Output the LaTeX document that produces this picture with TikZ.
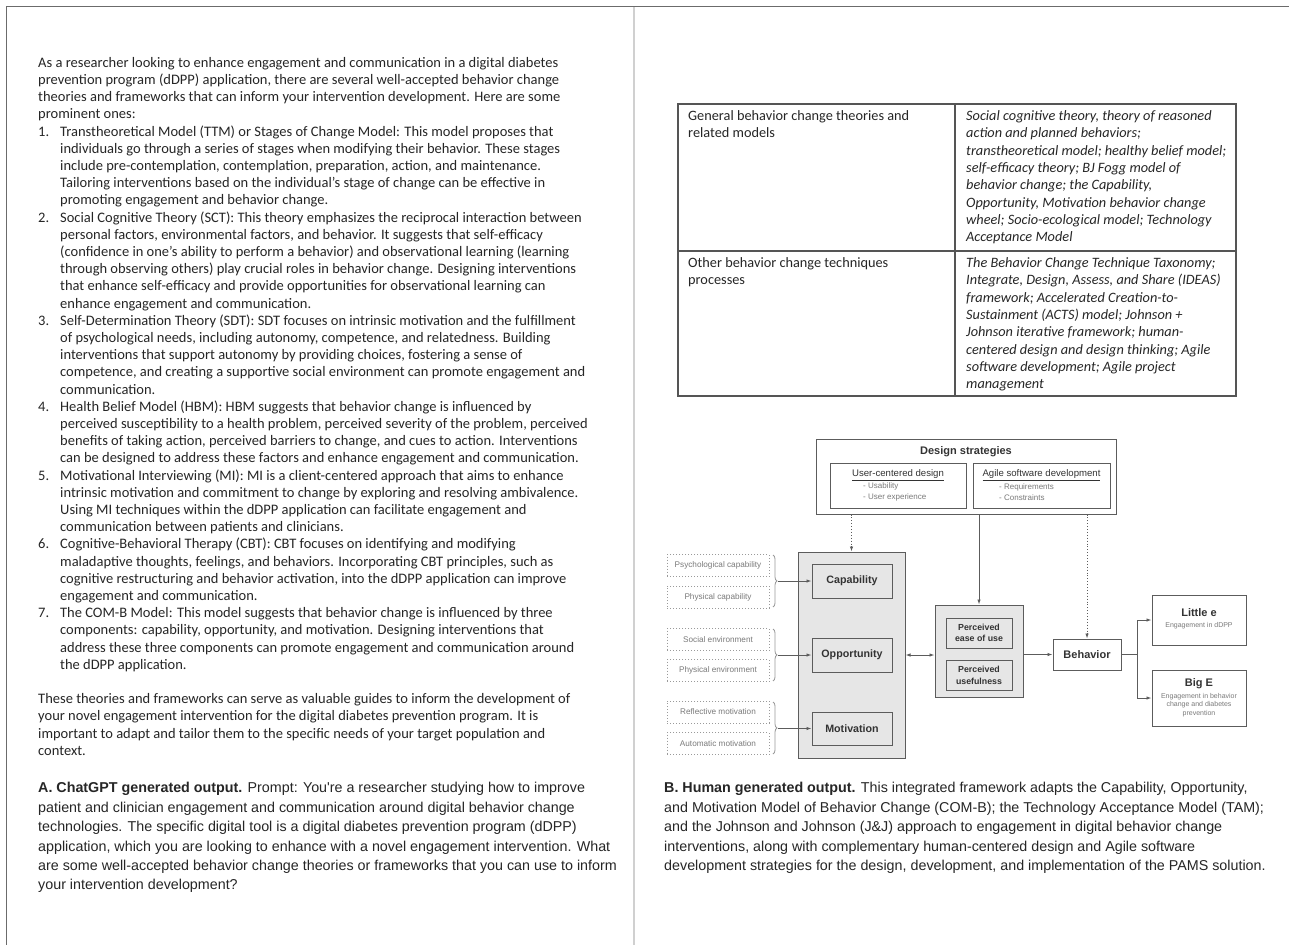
\documentclass[tikz,border=0pt]{standalone}
\usepackage{fontspec}
\setmainfont{Carlito}
\newfontfamily\arialfont{Liberation Sans}
\usetikzlibrary{positioning,arrows.meta,decorations.pathreplacing}
\definecolor{bodyink}{HTML}{262626}
\definecolor{labelink}{HTML}{333333}
\definecolor{smallink}{HTML}{7A7A7A}
\definecolor{boxgray}{HTML}{5C5C5C}
\definecolor{fillgray}{HTML}{E6E6E6}
\definecolor{dotgray}{HTML}{9A9A9A}
\definecolor{framegray}{HTML}{6B6B6B}
\definecolor{dividergray}{HTML}{D0D0D0}
\definecolor{tablegray}{HTML}{555555}
\newcommand{\lnum}[1]{\makebox[22pt][l]{#1}}
\newcommand{\lind}{\hspace*{22pt}}

\begin{document}
\begin{tikzpicture}[x=1pt,y=-1pt,
      every node/.style={inner sep=0pt},
      bodytext/.style={anchor=north west,align=left,text=bodyink,font=\fontsize{14.5}{17.2}\selectfont,execute at begin node=\strut},
      captext/.style={anchor=north west,align=left,text=bodyink,font=\arialfont\fontsize{14.3}{19.4}\selectfont,execute at begin node=\strut},
      celltext/.style={anchor=north west,align=left,text=bodyink,font=\fontsize{14.3}{17.3}\selectfont,execute at begin node=\strut},
      boxline/.style={draw=boxgray,line width=1pt},
      grouprect/.style={boxline,fill=fillgray},
      combox/.style={boxline,fill=fillgray,minimum width=80pt,minimum height=34pt,font=\arialfont\bfseries\fontsize{10.7}{12}\selectfont,text=labelink},
      srcbox/.style={draw=dotgray,dotted,line width=1pt,minimum width=102pt,minimum height=22pt,font=\arialfont\fontsize{8.2}{9}\selectfont,text=smallink},
      tambox/.style={boxline,fill=fillgray,minimum width=66pt,minimum height=30pt,align=center,font=\arialfont\bfseries\fontsize{8.8}{11.5}\selectfont,text=labelink},
      outbox/.style={boxline,fill=white,minimum width=94pt},
      boldlabel/.style={font=\arialfont\bfseries\fontsize{11}{13}\selectfont,text=labelink},
      sublabel/.style={font=\arialfont\fontsize{7}{8.3}\selectfont,text=smallink,align=center},
      arr/.style={-{Latex[length=5pt,width=3.5pt]},draw=boxgray,line width=0.9pt},
      dotarr/.style={arr,dotted},
      bracel/.style={draw=dotgray,line width=0.8pt,decorate,decoration={brace,amplitude=4pt}}]
  \useasboundingbox (0,0) rectangle (1289,945);
  \fill[white] (0,0) rectangle (1289,945);
  \draw[framegray,line width=1.3pt] (6,6.5) -- (1289,6.5);
  \draw[framegray,line width=1.3pt] (6.5,6) -- (6.5,945);
  \draw[dividergray,line width=2pt] (634,7) -- (634,945);

  \node[bodytext] (chattext) at (38,57) {As a researcher looking to enhance engagement and communication in a digital diabetes\\
    prevention program (dDPP) application, there are several well-accepted behavior change\\
    theories and frameworks that can inform your intervention development. Here are some\\
    prominent ones:\\
    \lnum{1.}Transtheoretical Model (TTM) or Stages of Change Model: This model proposes that\\
    \lind individuals go through a series of stages when modifying their behavior. These stages\\
    \lind include pre-contemplation, contemplation, preparation, action, and maintenance.\\
    \lind Tailoring interventions based on the individual's stage of change can be effective in\\
    \lind promoting engagement and behavior change.\\
    \lnum{2.}Social Cognitive Theory (SCT): This theory emphasizes the reciprocal interaction between\\
    \lind personal factors, environmental factors, and behavior. It suggests that self-efficacy\\
    \lind (confidence in one's ability to perform a behavior) and observational learning (learning\\
    \lind through observing others) play crucial roles in behavior change. Designing interventions\\
    \lind that enhance self-efficacy and provide opportunities for observational learning can\\
    \lind enhance engagement and communication.\\
    \lnum{3.}Self-Determination Theory (SDT): SDT focuses on intrinsic motivation and the fulfillment\\
    \lind of psychological needs, including autonomy, competence, and relatedness. Building\\
    \lind interventions that support autonomy by providing choices, fostering a sense of\\
    \lind competence, and creating a supportive social environment can promote engagement and\\
    \lind communication.\\
    \lnum{4.}Health Belief Model (HBM): HBM suggests that behavior change is influenced by\\
    \lind perceived susceptibility to a health problem, perceived severity of the problem, perceived\\
    \lind benefits of taking action, perceived barriers to change, and cues to action. Interventions\\
    \lind can be designed to address these factors and enhance engagement and communication.\\
    \lnum{5.}Motivational Interviewing (MI): MI is a client-centered approach that aims to enhance\\
    \lind intrinsic motivation and commitment to change by exploring and resolving ambivalence.\\
    \lind Using MI techniques within the dDPP application can facilitate engagement and\\
    \lind communication between patients and clinicians.\\
    \lnum{6.}Cognitive-Behavioral Therapy (CBT): CBT focuses on identifying and modifying\\
    \lind maladaptive thoughts, feelings, and behaviors. Incorporating CBT principles, such as\\
    \lind cognitive restructuring and behavior activation, into the dDPP application can improve\\
    \lind engagement and communication.\\
    \lnum{7.}The COM-B Model: This model suggests that behavior change is influenced by three\\
    \lind components: capability, opportunity, and motivation. Designing interventions that\\
    \lind address these three components can promote engagement and communication around\\
    \lind the dDPP application.\\[17.2pt]
    These theories and frameworks can serve as valuable guides to inform the development of\\
    your novel engagement intervention for the digital diabetes prevention program. It is\\
    important to adapt and tailor them to the specific needs of your target population and\\
    context.};

  \node[captext] (captiona) at (38,782.4) {\textbf{A. ChatGPT generated output.} Prompt: You're a researcher studying how to improve\\
    patient and clinician engagement and communication around digital behavior change\\
    technologies. The specific digital tool is a digital diabetes prevention program (dDPP)\\
    application, which you are looking to enhance with a novel engagement intervention. What\\
    are some well-accepted behavior change theories or frameworks that you can use to inform\\
    your intervention development?};
  \node[captext] (captionb) at (664,782.4) {\textbf{B. Human generated output.} This integrated framework adapts the Capability, Opportunity,\\
    and Motivation Model of Behavior Change (COM-B); the Technology Acceptance Model (TAM);\\
    and the Johnson and Johnson (J\&J) approach to engagement in digital behavior change\\
    interventions, along with complementary human-centered design and Agile software\\
    development strategies for the design, development, and implementation of the PAMS solution.};

  \draw[tablegray,line width=1.2pt] (678,104) rectangle (1236,396);
  \draw[tablegray,line width=1.2pt] (955,104) -- (955,396);
  \draw[tablegray,line width=1.2pt] (678,251) -- (1236,251);
  \node[celltext] (generalhead) at (688,110.4) {General behavior change theories and\\related models};
  \node[celltext,font=\itshape\fontsize{14.3}{17.3}\selectfont] (generallist) at (966,110.4) {Social cognitive theory, theory of reasoned\\
    action and planned behaviors;\\
    transtheoretical model; healthy belief model;\\
    self-efficacy theory; BJ Fogg model of\\
    behavior change; the Capability,\\
    Opportunity, Motivation behavior change\\
    wheel; Socio-ecological model; Technology\\
    Acceptance Model};
  \node[celltext] (otherhead) at (688,257.4) {Other behavior change techniques\\processes};
  \node[celltext,font=\itshape\fontsize{14.3}{17.3}\selectfont] (otherlist) at (966,257.4) {The Behavior Change Technique Taxonomy;\\
    Integrate, Design, Assess, and Share (IDEAS)\\
    framework; Accelerated Creation-to-\\
    Sustainment (ACTS) model; Johnson +\\
    Johnson iterative framework; human-\\
    centered design and design thinking; Agile\\
    software development; Agile project\\
    management};

  \node[boxline,minimum width=300pt,minimum height=75pt] (design) at (966,476.5) {};
  \node[boldlabel] (designtitle) at (966,452) {Design strategies};
  \node[boxline,minimum width=136pt,minimum height=45pt] (ucd) at (898,485.5) {};
  \node[font=\arialfont\fontsize{9.6}{11}\selectfont,text=labelink] (ucdtitle) at (898,475) {\underline{User-centered design}};
  \node[anchor=west,align=left,font=\arialfont\fontsize{8}{10.5}\selectfont,text=smallink] (ucdlist) at (863,492) {- Usability\\- User experience};
  \node[boxline,minimum width=137pt,minimum height=45pt] (agile) at (1041.5,485.5) {};
  \node[font=\arialfont\fontsize{9.6}{11}\selectfont,text=labelink] (agiletitle) at (1041.5,475) {\underline{Agile software development}};
  \node[anchor=west,align=left,font=\arialfont\fontsize{8}{10.5}\selectfont,text=smallink] (agilelist) at (999,492) {- Requirements\\- Constraints};

  \node[grouprect,minimum width=107pt,minimum height=206pt] (comb) at (851.5,655) {};
  \node[combox] (cap) at (852,581) {Capability};
  \node[combox] (opp) at (852,655) {Opportunity};
  \node[combox,minimum height=33pt] (mot) at (852,728.5) {Motivation};

  \node[srcbox] (psy) at (718,565.5) {Psychological capability};
  \node[srcbox] (phys) at (718,597) {Physical capability};
  \node[srcbox] (soc) at (718,639.5) {Social environment};
  \node[srcbox] (phenv) at (718,670.5) {Physical environment};
  \node[srcbox] (refl) at (718,712) {Reflective motivation};
  \node[srcbox] (auto) at (718,743.5) {Automatic motivation};

  \draw[bracel] (773,555) -- (773,607);
  \draw[bracel] (773,629) -- (773,681);
  \draw[bracel] (773,702) -- (773,754);
  \coordinate (capbr) at (778,581);
  \coordinate (oppbr) at (778,655);
  \coordinate (motbr) at (778,728.5);
  \draw[arr] (capbr) -- (cap.west);
  \draw[arr] (oppbr) -- (opp.west);
  \draw[arr] (motbr) -- (mot.west);

  \node[grouprect,minimum width=88pt,minimum height=92pt] (tam) at (979,651) {};
  \node[tambox] (ease) at (979,633) {Perceived\\ease of use};
  \node[tambox] (useful) at (979,675.5) {Perceived\\usefulness};

  \node[outbox,minimum width=68pt,minimum height=31pt,boldlabel] (behav) at (1087,654.5) {Behavior};
  \node[outbox,minimum height=50pt] (littlee) at (1199,620) {};
  \node[boldlabel] (littleetitle) at (1199,613) {Little e};
  \node[sublabel] (littleesub) at (1199,625.5) {Engagement in dDPP};
  \node[outbox,minimum height=56pt] (bige) at (1199,698) {};
  \node[boldlabel] (bigetitle) at (1199,684) {Big E};
  \node[sublabel] (bigesub) at (1199,705) {Engagement in behavior\\change and diabetes\\prevention};

  \draw[dotarr] (design.south -| comb.north) -- (comb.north);
  \draw[arr] (design.south -| tam.north) -- (tam.north);
  \draw[dotarr] (design.south -| behav.north) -- (behav.north);
  \draw[arr,{Latex[length=5pt,width=3.5pt]}-{Latex[length=5pt,width=3.5pt]}] (comb.east |- opp) -- (tam.west |- opp);
  \draw[arr] (tam.east |- behav) -- (behav.west);
  \coordinate (fork) at (1137,654.5);
  \draw[boxgray,line width=0.9pt] (behav.east) -- (fork);
  \draw[arr] (fork) |- (littlee.west);
  \draw[arr] (fork) |- (bige.west);
\end{tikzpicture}
\end{document}
